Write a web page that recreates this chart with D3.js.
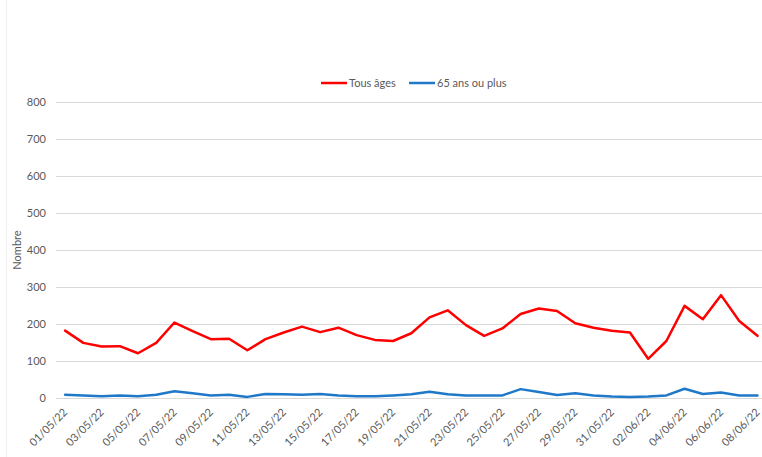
<!DOCTYPE html>
<html>
<head>
<meta charset="utf-8">
<script src="https://cdn.jsdelivr.net/npm/d3@7"></script>
<style>
  html, body { margin: 0; padding: 0; background: #fff; }
  svg { display: block; }
  text { font-family: Lato, "Open Sans", sans-serif; }
</style>
</head>
<body>
<script>
const dates = ["01/05/22","02/05/22","03/05/22","04/05/22","05/05/22","06/05/22","07/05/22","08/05/22","09/05/22","10/05/22",
  "11/05/22","12/05/22","13/05/22","14/05/22","15/05/22","16/05/22","17/05/22","18/05/22","19/05/22","20/05/22",
  "21/05/22","22/05/22","23/05/22","24/05/22","25/05/22","26/05/22","27/05/22","28/05/22","29/05/22","30/05/22",
  "31/05/22","01/06/22","02/06/22","03/06/22","04/06/22","05/06/22","06/06/22","07/06/22","08/06/22"];
const tousAges = [182,149,139,140,121,149,204,181,159,160,
  129,159,177,193,178,190,170,157,154,175,
  218,237,197,168,188,227,242,235,202,190,
  182,177,106,154,249,213,278,208,168];
const plus65 = [9,7,5,7,5,9,18,13,7,9,
  3,11,10,9,11,7,5,5,7,10,
  17,10,7,7,7,24,16,8,13,7,
  4,3,4,7,25,11,15,7,7];
const yTicks = [0,100,200,300,400,500,600,700,800];
const seriesNames = ["Tous âges","65 ans ou plus"];
const seriesColors = ["#ff0000","#1f78c8"];

const W = 762, H = 457;
const svg = d3.select("body").append("svg").attr("width", W).attr("height", H);

const x = d3.scaleBand().domain(dates).range([56, 56 + 39 * 18.22]);
const y = d3.scaleLinear().domain([0, 800]).range([398, 102]);

// chart border (left edge visible)
svg.append("line").attr("x1", 6.5).attr("x2", 6.5).attr("y1", 0).attr("y2", H)
  .attr("stroke", "#f0f0f0").attr("stroke-width", 1);

// gridlines
svg.append("g").selectAll("line").data(yTicks).join("line")
  .attr("x1", 56).attr("x2", W)
  .attr("y1", d => Math.round(y(d)) + 0.5).attr("y2", d => Math.round(y(d)) + 0.5)
  .attr("stroke", "#d9d9d9").attr("stroke-width", 1);

// y axis labels
const yAxis = d3.axisLeft(y).tickValues(yTicks).tickSize(0).tickPadding(0);
const gy = svg.append("g").attr("transform", "translate(46,0)").call(yAxis);
gy.select(".domain").remove();
gy.selectAll("text").attr("font-size", 11).attr("fill", "#595959")
  .style("font-family", "Lato, 'Open Sans', sans-serif");

// x axis labels
const xAxis = d3.axisBottom(x).tickValues(dates.filter((d, i) => i % 2 === 0)).tickSize(0).tickPadding(0);
const gx = svg.append("g").attr("transform", "translate(0,398)").call(xAxis);
gx.select(".domain").remove();
gx.selectAll("text")
  .attr("font-size", 11).attr("fill", "#595959")
  .style("font-family", "Lato, 'Open Sans', sans-serif")
  .attr("text-anchor", "end")
  .attr("dy", null)
  .attr("y", 0)
  .attr("transform", "translate(3,15) rotate(-45)");

// Y axis title
svg.append("text").attr("transform", "translate(21,250) rotate(-90)")
  .attr("text-anchor", "middle").attr("font-size", 11).attr("fill", "#595959")
  .text("Nombre");

// lines
const line = d3.line().x((d, i) => x(dates[i]) + x.bandwidth() / 2).y(d => y(d));
[tousAges, plus65].forEach((s, k) => {
  svg.append("path").datum(s).attr("d", line)
    .attr("fill", "none").attr("stroke", seriesColors[k]).attr("stroke-width", 2.5)
    .attr("stroke-linejoin", "round").attr("stroke-linecap", "round");
});

// legend
const legendPos = [321, 409];
seriesNames.forEach((n, k) => {
  const g = svg.append("g").attr("transform", `translate(${legendPos[k]},83)`);
  g.append("line").attr("x1", 0).attr("x2", 26).attr("y1", 0).attr("y2", 0)
    .attr("stroke", seriesColors[k]).attr("stroke-width", 2.5);
  g.append("text").attr("x", 28).attr("y", 4).attr("font-size", 11).attr("fill", "#595959").text(n);
});
</script>
</body>
</html>
